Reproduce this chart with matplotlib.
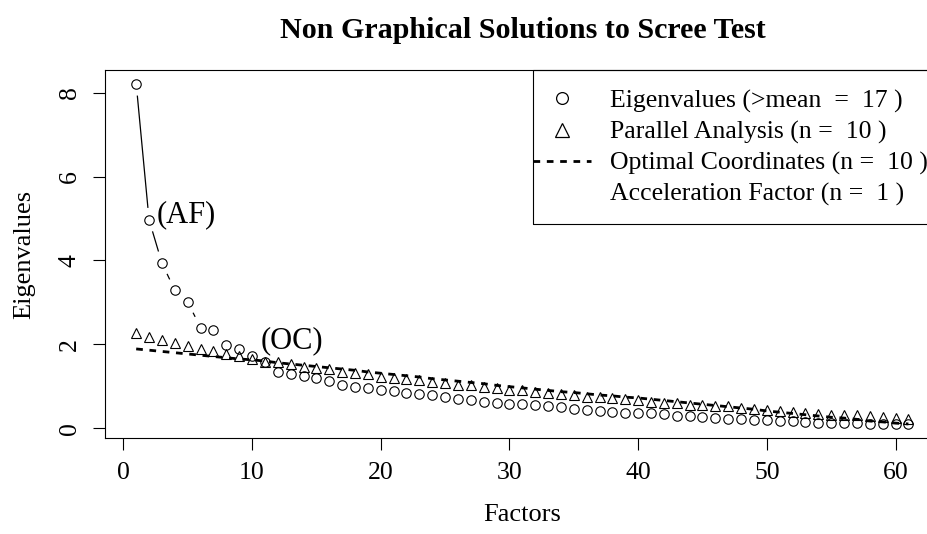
import numpy as np
import matplotlib
matplotlib.use("Agg")
import matplotlib.pyplot as plt
from matplotlib.lines import Line2D

plt.rcParams['font.family'] = ['Liberation Serif', 'DejaVu Serif']

factors = list(range(1, 62))
eigenvalues = [8.22, 4.97, 3.94, 3.29, 3.01, 2.40, 2.33, 1.99, 1.90, 1.71,
               1.58, 1.34, 1.30, 1.25, 1.20, 1.12, 1.03, 0.99, 0.96, 0.91,
               0.88, 0.85, 0.82, 0.79, 0.74, 0.70, 0.66, 0.63, 0.61, 0.58,
               0.57, 0.55, 0.53, 0.50, 0.46, 0.44, 0.42, 0.39, 0.37, 0.36,
               0.35, 0.33, 0.29, 0.28, 0.26, 0.25, 0.23, 0.21, 0.20, 0.20,
               0.18, 0.17, 0.15, 0.13, 0.13, 0.12, 0.12, 0.10, 0.09, 0.09,
               0.09]
parallel = [2.27, 2.17, 2.11, 2.03, 1.97, 1.90, 1.85, 1.77, 1.71, 1.66,
            1.59, 1.57, 1.52, 1.47, 1.44, 1.41, 1.34, 1.31, 1.28, 1.23,
            1.19, 1.17, 1.14, 1.11, 1.07, 1.03, 1.03, 0.99, 0.96, 0.91,
            0.90, 0.87, 0.85, 0.82, 0.79, 0.75, 0.74, 0.71, 0.69, 0.66,
            0.63, 0.61, 0.60, 0.56, 0.55, 0.53, 0.52, 0.48, 0.45, 0.44,
            0.41, 0.39, 0.36, 0.34, 0.32, 0.31, 0.31, 0.28, 0.26, 0.25,
            0.21]
optimal_coord = [1.89, 1.86, 1.83, 1.80, 1.77, 1.74, 1.71, 1.68, 1.65, 1.63,
                 1.60, 1.56, 1.53, 1.50, 1.47, 1.44, 1.41, 1.38, 1.34, 1.31,
                 1.28, 1.25, 1.22, 1.18, 1.15, 1.12, 1.09, 1.06, 1.02, 0.99,
                 0.96, 0.93, 0.90, 0.87, 0.85, 0.82, 0.79, 0.77, 0.74, 0.72,
                 0.69, 0.66, 0.63, 0.60, 0.57, 0.54, 0.51, 0.48, 0.45, 0.41,
                 0.38, 0.35, 0.32, 0.29, 0.26, 0.24, 0.21, 0.17, 0.15, 0.12,
                 0.10]
x_ticks = [0, 10, 20, 30, 40, 50, 60]
y_ticks = [0, 2, 4, 6, 8]
legend_labels = ["Eigenvalues (>mean  =  17 )",
                 "Parallel Analysis (n =  10 )",
                 "Optimal Coordinates (n =  10 )",
                 "Acceleration Factor (n =  1 )"]
n_af = 1
n_oc = 10

W, H = 928, 534
fig = plt.figure(figsize=(W / 100, H / 100), dpi=100)
ax = fig.add_axes([105.3 / W, 96 / H, 834 / W, 368 / H])

x = np.array(factors, dtype=float)
ev = np.array(eigenvalues)
xr = x.max() - x.min()
yr = ev.max() - ev.min()
ax.set_xlim(x.min() - 0.04 * xr, x.max() + 0.04 * xr)
ax.set_ylim(ev.min() - 0.04 * yr, ev.max() + 0.04 * yr)


def gapped_line(xs, ys, gap_px=12.0, **kw):
    pts = ax.transData.transform(np.column_stack([xs, ys]))
    inv = ax.transData.inverted()
    for i in range(len(pts) - 1):
        d = pts[i + 1] - pts[i]
        L = np.hypot(*d)
        if L > 2 * gap_px:
            u = d / L
            a = inv.transform(pts[i] + u * gap_px)
            b = inv.transform(pts[i + 1] - u * gap_px)
            ax.plot([a[0], b[0]], [a[1], b[1]], color='black', lw=0.9,
                    solid_capstyle='butt', **kw)


gapped_line(x, ev)
ax.plot(x, ev, linestyle='none', marker='o', ms=6.8, mfc='none',
        mec='black', mew=0.8)
gapped_line(x, parallel)
ax.plot(x, parallel, linestyle='none', marker='^', ms=7.8, mfc='none',
        mec='black', mew=0.8)
ax.plot(x, optimal_coord, color='black', lw=2.0, linestyle=(0, (2.4, 2.4)))

ax.annotate("(AF)", xy=(factors[n_af], eigenvalues[n_af]),
            xytext=(5.8, 3.5), textcoords='offset points',
            ha='left', va='center', fontsize=22)
ax.annotate("(OC)", xy=(factors[n_oc - 1], eigenvalues[n_oc - 1]),
            xytext=(6.5, 11.0), textcoords='offset points',
            ha='left', va='center', fontsize=22)

ax.set_xticks(x_ticks)
ax.set_yticks(y_ticks)
ax.tick_params(axis='both', direction='out', length=8.6, width=0.8,
               labelsize=18.5, pad=9)
for lab in ax.get_yticklabels():
    lab.set_rotation(90)
    lab.set_va('center')
for s in ax.spines.values():
    s.set_linewidth(0.8)

ax.set_xlabel("Factors", fontsize=19, labelpad=14)
ax.set_ylabel("Eigenvalues", fontsize=19, labelpad=17)
fig.text(523 / W, 1 - 30 / H, "Non Graphical Solutions to Scree Test",
         ha='center', va='center', fontsize=21.6, fontweight='bold')

# legend box (R-style topright, touching the corner)
ax.add_patch(plt.Rectangle((0.5128, 0.5815), 0.4872, 0.4185,
                           transform=ax.transAxes, fill=False,
                           edgecolor='black', lw=0.8, clip_on=False))
handles = [
    Line2D([], [], linestyle='none', marker='o', ms=8.5, mfc='none',
           mec='black', mew=0.9),
    Line2D([], [], linestyle='none', marker='^', ms=9.5, mfc='none',
           mec='black', mew=0.9),
    Line2D([], [], color='black', lw=2.0, linestyle=(0, (2.4, 2.4))),
    Line2D([], [], linestyle='none'),
]
leg = ax.legend(handles, legend_labels, loc='upper left',
                bbox_to_anchor=(0.5128, 0.947), frameon=False,
                fontsize=18.5, borderpad=0, borderaxespad=0,
                handlelength=2.26, handletextpad=0.74, labelspacing=0.3)

fig.savefig("out.png", dpi=100, facecolor='white')
